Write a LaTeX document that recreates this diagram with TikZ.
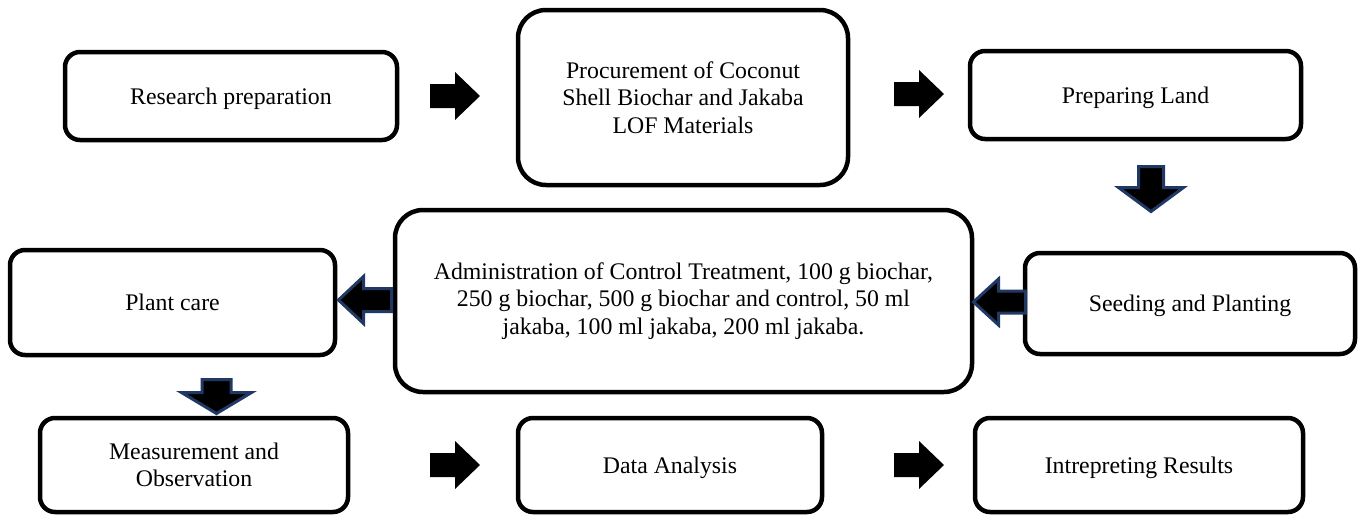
\documentclass[tikz,border=0pt]{standalone}
\usepackage{fontspec}
\setmainfont{Liberation Serif}
\definecolor{arrowblue}{RGB}{32,56,100}
\tikzset{
 box/.style={draw,line width=4.5pt,rounded corners=15pt,align=center,inner sep=0pt,
  font=\fontsize{23.8}{27.4}\selectfont},
 oneline/.style={box,text depth=0pt},
 bigbox/.style={box,rounded corners=28pt},
 plainarrow/.style={fill=black},
 edgearrow/.style={fill=black,draw=arrowblue,line width=3pt},
 pics/barrow/.style n args={4}{code={
  \path[pic actions] (-#1/2,-#2)--(#1/2-#4,-#2)--(#1/2-#4,-#3)--(#1/2,0)
   --(#1/2-#4,#3)--(#1/2-#4,#2)--(-#1/2,#2)--cycle;}}
}
\begin{document}
\begin{tikzpicture}[x=1pt,y=-1pt]
 \useasboundingbox (0,0) rectangle (1361,517);
 % top row
 \node[oneline,minimum width=332,minimum height=88] (prep) at (231,96) {Research preparation};
 \node[bigbox,minimum width=330,minimum height=175] (procure) at (683,97.5)
  {Procurement of Coconut\\Shell Biochar and Jakaba\\LOF Materials};
 \node[oneline,minimum width=331,minimum height=88] (land) at (1135.5,95) {Preparing Land};
 % middle row
 \node[oneline,minimum width=325,minimum height=105] (care) at (172.5,302.5) {Plant care};
 \node[bigbox,minimum width=577,minimum height=182] (admin) at (683.5,301)
  {Administration of Control Treatment, 100 g biochar,\\250 g biochar, 500 g biochar and control, 50 ml\\jakaba, 100 ml jakaba, 200 ml jakaba.};
 \node[oneline,minimum width=330,minimum height=101] (seed) at (1190,303.5) {Seeding and Planting};
 % bottom row
 \node[box,minimum width=308,minimum height=94] (measure) at (194,465) {Measurement and\\Observation};
 \node[oneline,minimum width=304,minimum height=94] (data) at (670,465) {Data Analysis};
 \node[oneline,minimum width=328,minimum height=94] (result) at (1139,465) {Intrepreting Results};
 % block arrows
 \pic[plainarrow] at (455,96) {barrow={50}{12}{24}{25}};
 \pic[plainarrow] at (919,94) {barrow={50}{12}{24}{25}};
 \pic[edgearrow,rotate=-90] at (1151,189) {barrow={45}{12.5}{32.5}{24}};
 \pic[edgearrow,rotate=180] at (999.5,302) {barrow={52}{11}{23}{25}};
 \pic[edgearrow,rotate=180] at (365,300) {barrow={53}{11.5}{23.5}{25}};
 \pic[edgearrow,rotate=-90] at (216.5,396.5) {barrow={34}{14.5}{35}{21}};
 \pic[plainarrow] at (455,465) {barrow={50}{12}{24}{25}};
 \pic[plainarrow] at (919,465) {barrow={50}{12}{24}{25}};
\end{tikzpicture}
\end{document}
